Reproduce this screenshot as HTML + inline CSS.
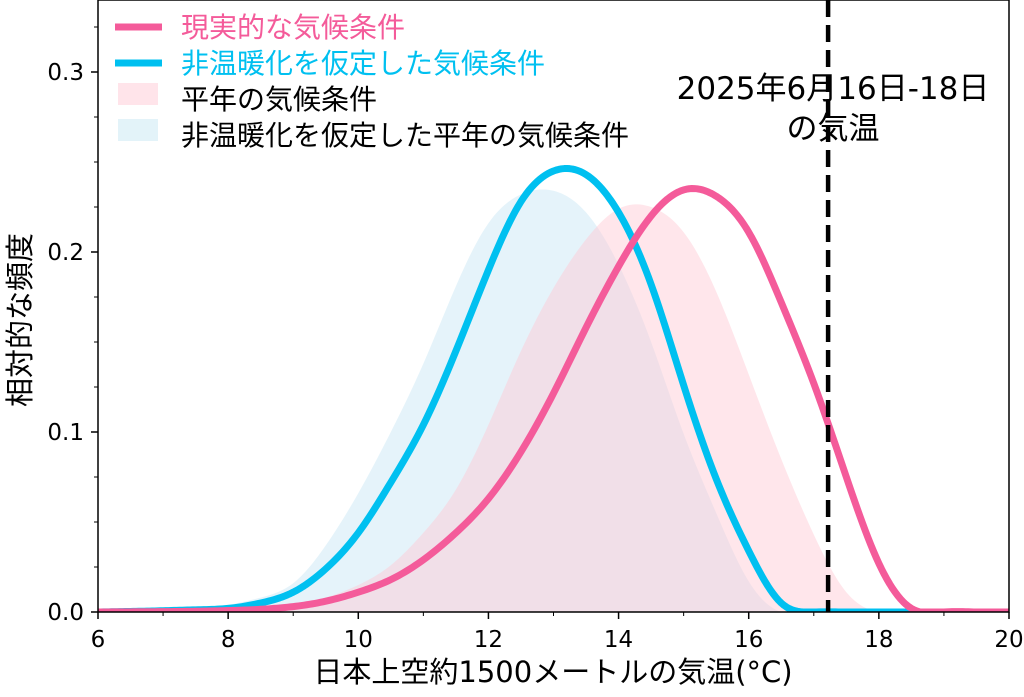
<!DOCTYPE html>
<html><head><meta charset="utf-8">
<style>
html,body{margin:0;padding:0;background:#fff;}
svg{display:block;font-family:"DejaVu Sans","Noto Sans CJK JP",sans-serif;}
</style></head>
<body>
<svg id="chart" width="1024" height="697" viewBox="0 0 1024 697">
<defs><clipPath id="clip"><rect x="98" y="0" width="911" height="612"/></clipPath></defs>
<g id="fills" clip-path="url(#clip)"></g>
<g id="lines" clip-path="url(#clip)"></g>
<g id="axes"></g>
<g>
  <line x1="115" y1="27" x2="162" y2="27" stroke="#f45b9a" stroke-width="7"/>
  <text x="181" y="37" font-size="28" fill="#f45b9a">現実的な気候条件</text>
  <line x1="115" y1="63" x2="162" y2="63" stroke="#00c0f0" stroke-width="7"/>
  <text x="181" y="73" font-size="28" fill="#00c0f0">非温暖化を仮定した気候条件</text>
  <rect x="118" y="83" width="40" height="22" fill="#ffe4ea"/>
  <text x="181" y="109" font-size="28" fill="#000">平年の気候条件</text>
  <rect x="118" y="119" width="40" height="22" fill="#e3f3f9"/>
  <text x="181" y="145" font-size="28" fill="#000">非温暖化を仮定した平年の気候条件</text>
</g>
<text x="833" y="99" font-size="31" text-anchor="middle">2025年6月16日-18日</text>
<text x="833" y="139" font-size="31" text-anchor="middle">の気温</text>
<text x="553" y="682" font-size="29" text-anchor="middle">日本上空約1500メートルの気温(°C)</text>
<text transform="translate(30,320) rotate(-90)" font-size="29" text-anchor="middle">相対的な頻度</text>
</svg>
<script>
const temps = [6,6.5,7,7.5,8,8.5,9,9.5,10,10.5,11,11.5,12,12.5,13,13.5,14,14.5,15,15.5,16,16.5,17,17.5,18,18.5,19,19.5,20];
const currentLine = [0,0.0001,0.0002,0.0004,0.0008,0.0015,0.003,0.006,0.011,0.018,0.029,0.044,0.063,0.089,0.1215,0.158,0.192,0.220,0.2345,0.231,0.211,0.172,0.127,0.075,0.027,0.002,0,0,0];
const nonWarmLine = [0,0.0003,0.0007,0.0012,0.002,0.005,0.011,0.024,0.044,0.072,0.104,0.145,0.19,0.228,0.245,0.243,0.222,0.182,0.126,0.074,0.034,0.005,0,0,0,0,0,0,0];
const normalFill = [0,0,0.0002,0.0005,0.001,0.002,0.004,0.008,0.015,0.026,0.044,0.068,0.104,0.145,0.180,0.207,0.224,0.225,0.211,0.178,0.132,0.085,0.043,0.011,0,0,0,0,0];
const nonWarmNormalFill = [0,0.0005,0.001,0.002,0.004,0.008,0.016,0.037,0.066,0.100,0.138,0.181,0.216,0.232,0.234,0.222,0.193,0.150,0.099,0.055,0.017,0,0,0,0,0,0,0,0];
const eventTemp = 17.22;
const xTicks = [6,8,10,12,14,16,18,20];
const xMinor = [7,9,11,13,15,17,19];
const yTicks = [0,0.1,0.2,0.3];
const yTickLabels = ["0.0","0.1","0.2","0.3"];
const yMinor = [0.025,0.05,0.075,0.125,0.15,0.175,0.225,0.25,0.275,0.325];

const X = v => 98 + (v-6)*(911/14);
const Y = v => 612 - v*1800;
const NS = "http://www.w3.org/2000/svg";
function mk(tag, attrs, parent){const e=document.createElementNS(NS,tag);for(const k in attrs)e.setAttribute(k,attrs[k]);parent.appendChild(e);return e;}
function splinePath(xs, ys){
  // natural cubic spline
  const n=xs.length, h=[], a=[], b=[], c=[], r=[], M=new Array(n).fill(0);
  for(let i=0;i<n-1;i++) h.push(xs[i+1]-xs[i]);
  const cp=new Array(n).fill(0), dp=new Array(n).fill(0);
  for(let i=1;i<n-1;i++){
    const ai=h[i-1], bi=2*(h[i-1]+h[i]), ci=h[i];
    const ri=6*((ys[i+1]-ys[i])/h[i]-(ys[i]-ys[i-1])/h[i-1]);
    const den=bi-ai*cp[i-1];
    cp[i]=ci/den; dp[i]=(ri-ai*dp[i-1])/den;
  }
  for(let i=n-2;i>=1;i--) M[i]=dp[i]-cp[i]*M[i+1];
  let path="";
  for(let i=0;i<n-1;i++){
    for(let k=0;k<=12;k++){
      if(i>0&&k===0)continue;
      const t=k/12*h[i], A=(h[i]-t)/h[i], B=t/h[i];
      const y=A*ys[i]+B*ys[i+1]+((A*A*A-A)*M[i]+(B*B*B-B)*M[i+1])*h[i]*h[i]/6;
      path+=(path?" L":"M")+X(xs[i]+t).toFixed(2)+","+Y(Math.max(0,y)).toFixed(2);
    }
  }
  return path;
}
const fills=document.getElementById('fills'), lines=document.getElementById('lines'), axes=document.getElementById('axes');
const f1=mk('path',{d:splinePath(temps,nonWarmNormalFill)+" L"+X(20)+",612 L"+X(6)+",612 Z",fill:"#cfeaf5","fill-opacity":"0.55"},fills);


const f2=mk('path',{d:splinePath(temps,normalFill)+" L"+X(20)+",612 L"+X(6)+",612 Z",fill:"#ffc8d3","fill-opacity":"0.45"},fills);


const l1=mk('path',{d:splinePath(temps,nonWarmLine),fill:"none",stroke:"#00c0f0","stroke-width":"7","stroke-linejoin":"round"},lines);


const l2=mk('path',{d:splinePath(temps,currentLine),fill:"none",stroke:"#f45b9a","stroke-width":"7","stroke-linejoin":"round"},lines);


const ev=mk('line',{x1:X(eventTemp),x2:X(eventTemp),y1:0,y2:612,stroke:"#000","stroke-width":"4.5","stroke-dasharray":"17,8"},lines);


const frame=mk('rect',{x:98,y:0,width:911,height:612,fill:"none",stroke:"#000","stroke-width":"1.5"},axes);


xTicks.forEach(v=>{
  const t=mk('line',{x1:X(v),x2:X(v),y1:612,y2:619,stroke:"#000","stroke-width":"1.5"},axes);
  
  
  const l=mk('text',{x:X(v),y:647,"font-size":"23","text-anchor":"middle"},axes);l.textContent=v;
  
  
});
xMinor.forEach(v=>{
  const t=mk('line',{x1:X(v),x2:X(v),y1:612,y2:616,stroke:"#000","stroke-width":"1"},axes);
  
  
});
yTicks.forEach((v,i)=>{
  const t=mk('line',{x1:91,x2:98,y1:Y(v),y2:Y(v),stroke:"#000","stroke-width":"1.5"},axes);
  
  
  const l=mk('text',{x:84,y:Y(v)+8,"font-size":"23","text-anchor":"end"},axes);l.textContent=yTickLabels[i];
  
  
});
yMinor.forEach(v=>{
  const t=mk('line',{x1:94,x2:98,y1:Y(v),y2:Y(v),stroke:"#000","stroke-width":"1"},axes);
  
  
});
</script>
</body></html>
